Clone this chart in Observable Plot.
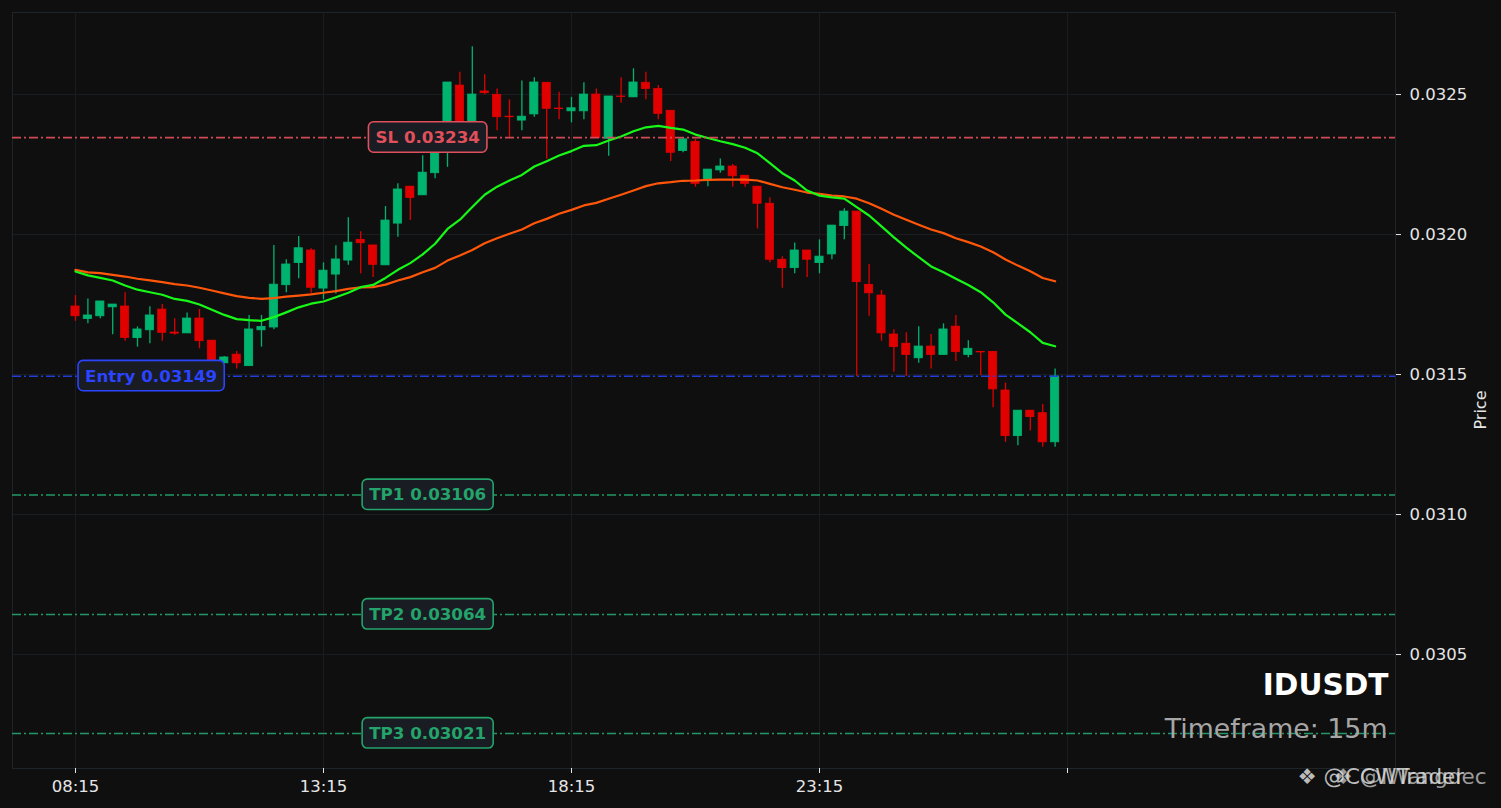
<!DOCTYPE html>
<html>
<head>
<meta charset="utf-8">
<script src="https://cdn.jsdelivr.net/npm/d3@7"></script>
<script src="https://cdn.jsdelivr.net/npm/@observablehq/plot@0.6"></script>
<style>
html,body{margin:0;padding:0;background:#0f0f0f;overflow:hidden}
#chart{width:1501px;height:808px}
</style>
</head>
<body>
<div id="chart"></div>
<script>
// ---------- data ----------
const xTickIndex = [0, 20, 40, 60, 80];
const xTickLabels = ["08:15", "13:15", "18:15", "23:15", ""];
const yTicks = [0.0305, 0.0310, 0.0315, 0.0320, 0.0325];

const open = [
  0.031743,0.031698,0.031708,0.031740,0.031743,0.031630,0.031658,0.031732,0.031650,0.031647,
  0.031700,0.031621,0.031540,0.031571,0.031530,0.031658,0.031668,0.031819,0.031898,0.031943,
  0.031807,0.031857,0.031907,0.031981,0.031961,0.031890,0.032039,0.032171,0.032140,0.032219,
  0.032300,0.032532,0.032386,0.032511,0.032499,0.032421,0.032407,0.032429,0.032542,0.032450,
  0.032440,0.032440,0.032500,0.032342,0.032493,0.032490,0.032542,0.032520,0.032442,0.032298,
  0.032331,0.032193,0.032229,0.032243,0.032210,0.032171,0.032110,0.031910,0.031880,0.031943,
  0.031898,0.031929,0.032030,0.032082,0.031820,0.031782,0.031643,0.031610,0.031558,0.031600,
  0.031570,0.031671,0.031570,0.031581,0.031581,0.031443,0.031280,0.031371,0.031362,0.031258
];
const high = [
  0.031782,0.031770,0.031761,0.031750,0.031792,0.031670,0.031742,0.031750,0.031699,0.031720,
  0.031732,0.031621,0.031564,0.031582,0.031711,0.031711,0.031961,0.031910,0.031993,0.031949,
  0.031899,0.031960,0.032060,0.032010,0.031961,0.032100,0.032181,0.032171,0.032281,0.032336,
  0.032543,0.032580,0.032671,0.032571,0.032520,0.032481,0.032548,0.032560,0.032542,0.032508,
  0.032490,0.032542,0.032520,0.032493,0.032560,0.032592,0.032580,0.032532,0.032442,0.032347,
  0.032340,0.032232,0.032270,0.032250,0.032210,0.032171,0.032131,0.031921,0.031970,0.031943,
  0.031981,0.032032,0.032092,0.032082,0.031893,0.031800,0.031660,0.031649,0.031671,0.031643,
  0.031681,0.031711,0.031621,0.031581,0.031581,0.031470,0.031371,0.031371,0.031393,0.031520
];
const low = [
  0.031690,0.031681,0.031699,0.031642,0.031619,0.031598,0.031610,0.031619,0.031640,0.031647,
  0.031592,0.031539,0.031539,0.031520,0.031530,0.031598,0.031660,0.031792,0.031842,0.031790,
  0.031767,0.031788,0.031890,0.031860,0.031847,0.031890,0.031990,0.032050,0.032140,0.032199,
  0.032240,0.032364,0.032371,0.032499,0.032371,0.032347,0.032371,0.032419,0.032269,0.032410,
  0.032399,0.032410,0.032345,0.032280,0.032469,0.032490,0.032481,0.032410,0.032261,0.032292,
  0.032169,0.032171,0.032219,0.032169,0.032169,0.032020,0.031899,0.031808,0.031860,0.031847,
  0.031860,0.031910,0.031981,0.031493,0.031708,0.031619,0.031508,0.031493,0.031540,0.031520,
  0.031570,0.031547,0.031560,0.031496,0.031381,0.031258,0.031246,0.031298,0.031240,0.031240
];
const close = [
  0.031708,0.031711,0.031761,0.031750,0.031631,0.031661,0.031711,0.031649,0.031646,0.031700,
  0.031619,0.031544,0.031561,0.031540,0.031661,0.031670,0.031821,0.031893,0.031951,0.031810,
  0.031871,0.031911,0.031971,0.031969,0.031892,0.032050,0.032161,0.032131,0.032221,0.032307,
  0.032543,0.032379,0.032500,0.032505,0.032419,0.032419,0.032421,0.032543,0.032449,0.032448,
  0.032451,0.032500,0.032345,0.032493,0.032491,0.032543,0.032520,0.032431,0.032292,0.032340,
  0.032181,0.032232,0.032243,0.032208,0.032181,0.032110,0.031910,0.031880,0.031943,0.031910,
  0.031921,0.032032,0.032082,0.031830,0.031790,0.031647,0.031598,0.031570,0.031600,0.031570,
  0.031661,0.031580,0.031592,0.031579,0.031447,0.031280,0.031371,0.031348,0.031258,0.031493
];
const emaFast = [
  0.031868,0.031854,0.031845,0.031836,0.031818,0.031803,0.031794,0.031785,0.031770,0.031763,
  0.031750,0.031731,0.031713,0.031698,0.031694,0.031692,0.031705,0.031722,0.031740,0.031753,
  0.031761,0.031776,0.031792,0.031812,0.031820,0.031845,0.031874,0.031898,0.031929,0.031967,
  0.032020,0.032053,0.032098,0.032142,0.032171,0.032193,0.032213,0.032243,0.032262,0.032282,
  0.032298,0.032317,0.032319,0.032336,0.032350,0.032369,0.032383,0.032388,0.032381,0.032375,
  0.032357,0.032345,0.032333,0.032323,0.032310,0.032290,0.032255,0.032219,0.032193,0.032157,
  0.032139,0.032133,0.032128,0.032098,0.032068,0.032029,0.031990,0.031953,0.031919,0.031886,
  0.031865,0.031842,0.031820,0.031794,0.031758,0.031714,0.031683,0.031651,0.031613,0.031601
];
const emaSlow = [
  0.031874,0.031865,0.031862,0.031856,0.031850,0.031842,0.031836,0.031830,0.031823,0.031818,
  0.031810,0.031800,0.031790,0.031780,0.031774,0.031770,0.031773,0.031778,0.031782,0.031786,
  0.031792,0.031798,0.031806,0.031811,0.031812,0.031821,0.031836,0.031848,0.031865,0.031881,
  0.031907,0.031925,0.031945,0.031969,0.031987,0.032003,0.032018,0.032040,0.032056,0.032074,
  0.032088,0.032104,0.032113,0.032128,0.032142,0.032157,0.032173,0.032183,0.032187,0.032192,
  0.032193,0.032195,0.032196,0.032196,0.032196,0.032193,0.032181,0.032169,0.032160,0.032150,
  0.032145,0.032139,0.032136,0.032128,0.032112,0.032092,0.032071,0.032053,0.032035,0.032018,
  0.032005,0.031987,0.031973,0.031957,0.031937,0.031911,0.031889,0.031869,0.031845,0.031833
];

const levelNames  = ["Entry", "SL", "TP1", "TP2", "TP3"];
const levelValues = [0.031494, 0.032346, 0.031070, 0.030643, 0.030218];
const levelLabels = ["Entry 0.03149", "SL 0.03234", "TP1 0.03106", "TP2 0.03064", "TP3 0.03021"];

const symbolName = "IDUSDT";
const timeframeText = "Timeframe: 15m";
const watermarks = ["\u2756 @CCWTrader", "\u2756 @IWangdec"];

// ---------- styling ----------
const UP = "#00b470", DOWN = "#e10000";
const levelColors = {Entry: "#2a44ff", SL: "#e0505c", TP1: "#24a36b", TP2: "#24a36b", TP3: "#24a36b"};
const lineColors  = {Entry: "#2540e6", SL: "#d94e58", TP1: "#23a06a", TP2: "#23a06a", TP3: "#23a06a"};
const labelIndexPos = {Entry: 6.1, SL: 28.4, TP1: 28.4, TP2: 28.4, TP3: 28.4};

const candles = open.map((o, i) => ({i, o, h: high[i], l: low[i], c: close[i], fast: emaFast[i], slow: emaSlow[i]}));
const levels = levelNames.map((n, k) => ({name: n, v: levelValues[k], label: levelLabels[k], color: levelColors[n], lcolor: lineColors[n], lx: labelIndexPos[n]}));
const candleColor = d => (d.c >= d.o ? UP : DOWN);

const chart = Plot.plot({
  width: 1501,
  height: 808,
  marginLeft: 12,
  marginRight: 106,
  marginTop: 12,
  marginBottom: 40,
  style: {background: "#0f0f0f", color: "#e6e6e6", fontFamily: "DejaVu Sans", fontSize: "16.5px", overflow: "visible"},
  x: {type: "linear", domain: [-5.08, 106.45]},
  y: {domain: [0.030093, 0.032793]},
  marks: [
    Plot.gridX(xTickIndex, {stroke: "#1a1d22", strokeOpacity: 1}),
    Plot.gridY(yTicks, {stroke: "#1a1d22", strokeOpacity: 1}),
    Plot.frame({stroke: "#1f242b"}),
    Plot.ruleX(candles, {x: "i", y1: "l", y2: "h", stroke: candleColor, strokeWidth: 1.3}),
    Plot.rect(candles, {
      x1: d => d.i - 0.33, x2: d => d.i + 0.33,
      y1: d => Math.min(d.o, d.c), y2: d => Math.max(d.o, d.c),
      fill: candleColor, stroke: candleColor, strokeWidth: 0.8
    }),
    Plot.line(candles, {x: "i", y: "slow", stroke: "#ff560a", strokeWidth: 2.2}),
    Plot.line(candles, {x: "i", y: "fast", stroke: "#18f818", strokeWidth: 2.2}),
    Plot.ruleY(levels, {y: "v", stroke: "lcolor", strokeWidth: 1.6, strokeOpacity: 0.95, strokeDasharray: "9,3,2,3"}),
    Plot.text(levels, {x: "lx", y: "v", text: "label", fill: "color", fontWeight: "bold", fontSize: 16.7}),
    Plot.axisX(xTickIndex, {
      tickFormat: d => xTickLabels[xTickIndex.indexOf(d)],
      tickSize: 5, tickPadding: 7, label: null, fontSize: 16.5
    }),
    Plot.axisY(yTicks, {
      anchor: "right", tickFormat: d3.format(".4f"),
      tickSize: 5, tickPadding: 9, label: null, fontSize: 16.5
    }),
    Plot.text(["Price"], {frameAnchor: "right", dx: 85, rotate: -90, fontSize: 16, fill: "#e6e6e6"}),
    Plot.text([symbolName], {frameAnchor: "bottom-right", textAnchor: "end", dx: -7, dy: -73.5, fontSize: 29.6, fontWeight: "bold", fill: "#ffffff"}),
    Plot.text([timeframeText], {frameAnchor: "bottom-right", textAnchor: "end", dx: -8, dy: -30.6, fontSize: 26.8, fill: "#a6a6a6"}),
    Plot.text([watermarks[0]], {frameAnchor: "bottom-left", textAnchor: "start", dx: 1297 - 12, dy: 15, fontSize: 21.5, fill: "#dcdcdc", fillOpacity: 0.85}),
    Plot.text([watermarks[1]], {frameAnchor: "bottom-left", textAnchor: "start", dx: 1333 - 12, dy: 15, fontSize: 21.5, fill: "#dcdcdc", fillOpacity: 0.7})
  ]
});

document.getElementById("chart").append(chart);

// rounded boxes behind the level labels
const labelSet = new Set(levelLabels);
chart.querySelectorAll("text").forEach(t => {
  if (!labelSet.has(t.textContent)) return;
  const b = t.getBBox();
  const r = document.createElementNS("http://www.w3.org/2000/svg", "rect");
  r.setAttribute("x", b.x - 7);
  r.setAttribute("y", b.y - 5.2);
  r.setAttribute("width", b.width + 14);
  r.setAttribute("height", b.height + 10.4);
  r.setAttribute("rx", 5);
  r.setAttribute("fill", "#191c22");
  r.setAttribute("stroke", t.getAttribute("fill"));
  r.setAttribute("stroke-width", 1.6);
  if (t.getAttribute("transform")) r.setAttribute("transform", t.getAttribute("transform"));
  t.parentNode.insertBefore(r, t);
});
</script>
</body>
</html>
